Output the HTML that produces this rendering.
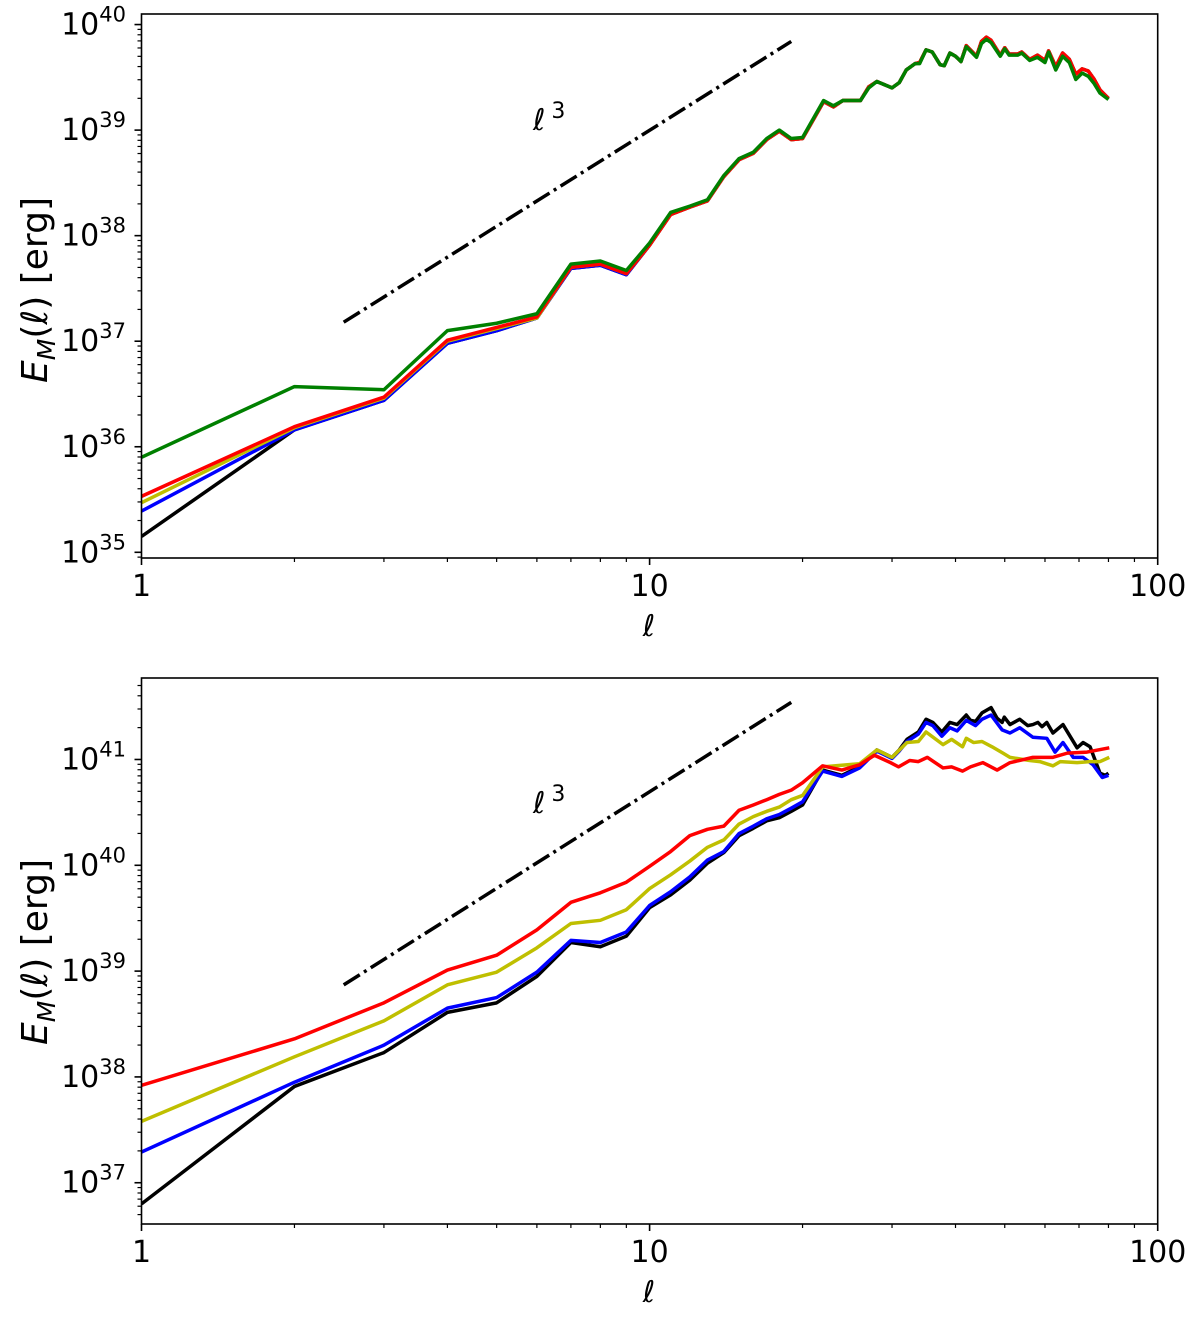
<!DOCTYPE html>
<html><head><meta charset="utf-8"><style>
html,body{margin:0;padding:0;background:#fff;}
svg{display:block;font-family:"DejaVu Sans","Liberation Sans",sans-serif;}
</style></head>
<body>
<svg id="fig" width="1200" height="1328" viewBox="0 0 1200 1328" xmlns="http://www.w3.org/2000/svg"></svg>
<script>
// ---- data ----
const topEll = [1,2,3,4,5,6,7,8,9,10,11,12,13,14,15,16,17,18,19,20,22,23,24,26,27,28,30,31,32,33.3,34,35,36,37.3,38,39,40,41,42,44,45,46,47,49,50,51,53,54,56,58,60,61,63,65,67,69,71,73,75,77,80];
const topGreen = [35.90,36.57,36.54,37.10,37.17,37.26,37.73,37.76,37.67,37.93,38.22,38.28,38.34,38.57,38.73,38.79,38.92,39.00,38.92,38.93,
 39.28,39.23,39.28,39.28,39.40,39.46,39.40,39.45,39.57,39.63,39.63,39.76,39.74,39.62,39.61,39.73,39.70,39.65,39.79,39.69,39.82,39.86,39.83,39.70,39.77,39.71,39.71,39.73,39.66,39.69,39.64,39.74,39.57,39.70,39.64,39.48,39.54,39.51,39.44,39.35,39.29];
const topHigh = [39.27,39.22,39.28,39.28,39.41,39.46,39.40,39.45,39.57,39.63,39.64,39.76,39.74,39.62,39.61,39.73,39.70,39.65,39.80,39.70,39.84,39.88,39.85,39.71,39.78,39.72,39.72,39.74,39.67,39.71,39.66,39.75,39.60,39.73,39.67,39.53,39.58,39.56,39.48,39.38,39.30];
const topRedLow = [35.53,36.19,36.47,37.01,37.13,37.23,37.70,37.73,37.64,37.91,38.20,38.27,38.33,38.56,38.72,38.78,38.91,38.99,38.91,38.92];
const topYellowLow = [35.47,36.18,36.46,37.00,37.12,37.22,37.70,37.73,37.64,37.91,38.20,38.27,38.33,38.56,38.72,38.78,38.91,38.99,38.91,38.92];
const topBlueLow = [35.39,36.16,36.44,36.98,37.10,37.22,37.69,37.72,37.63,37.91,38.20,38.27,38.33,38.56,38.72,38.78,38.91,38.99,38.91,38.92];
const topBlackLow = [35.15,36.16,36.44,36.98,37.10,37.22,37.69,37.72,37.63,37.91,38.20,38.27,38.33,38.56,38.72,38.78,38.91,38.99,38.91,38.92];

const lowEll = [1,2,3,4,5,6,7,8,9,10,11,12,13,14,15,16,17,18,19,20];
const botRedLow = [37.92,38.36,38.70,39.01,39.15,39.39,39.65,39.74,39.84,39.99,40.13,40.28,40.34,40.37,40.52,40.57,40.62,40.67,40.71,40.78];
const botYellowLow = [37.58,38.19,38.53,38.87,38.99,39.22,39.45,39.48,39.58,39.78,39.91,40.04,40.17,40.24,40.39,40.46,40.51,40.55,40.62,40.66];
const botBlueLow = [37.29,37.95,38.30,38.65,38.75,38.99,39.29,39.27,39.37,39.62,39.75,39.89,40.05,40.13,40.30,40.37,40.44,40.48,40.54,40.60];
const botBlackLow = [36.80,37.91,38.23,38.61,38.70,38.95,39.27,39.23,39.33,39.60,39.72,39.86,40.02,40.12,40.28,40.35,40.42,40.45,40.51,40.57];
const botBlackEll = [21.9,23.9,25.9,28,30,31,32.1,33.8,35,36.1,37.6,39,40.3,42,42.8,43.8,45.1,47,48.3,49.4,49.9,51.2,53.5,55.5,56.8,58.1,59.2,60.5,62.2,65.1,69.4,71.3,73.6,77,78.9,80];
const botBlackHigh = [40.90,40.85,40.93,41.09,41.02,41.09,41.19,41.26,41.38,41.35,41.26,41.35,41.33,41.42,41.37,41.36,41.44,41.49,41.39,41.35,41.40,41.33,41.38,41.32,41.33,41.35,41.31,41.35,41.25,41.33,41.11,41.16,41.12,40.87,40.85,40.87];
const botBlueEll = [21.9,23.9,25.9,28,30,31,32.1,33.8,35,36.1,37.6,39,40.3,42,43.8,45.1,47,49.4,51.2,53.5,56.8,60.5,62.8,65.1,68.2,71.3,74.6,77.8,80];
const botBlueHigh = [40.89,40.84,40.92,41.08,41.01,41.08,41.17,41.24,41.35,41.32,41.22,41.30,41.27,41.37,41.32,41.38,41.42,41.28,41.25,41.30,41.21,41.20,41.07,41.16,41.02,41.02,40.95,40.83,40.85];
const botYellowEll = [21.9,25.9,28,30,32.1,33.8,35,37.8,39.3,41.3,42,43.4,45.1,47.2,49.6,51.2,56,58.6,62.2,64.3,69.4,73.6,77,80.3];
const botYellowHigh = [40.93,40.96,41.09,41.02,41.16,41.17,41.26,41.14,41.19,41.12,41.20,41.16,41.17,41.12,41.06,41.02,40.99,40.98,40.94,40.98,40.97,40.98,40.98,41.02];
const botRedEll = [21.9,23.9,25.9,27.7,29.8,30.9,32.5,33.8,35.2,37.8,39.3,41.3,42.8,45.3,48.3,51.2,56.8,62.2,66.4,72.6,80.3];
const botRedHigh = [40.94,40.90,40.95,41.04,40.97,40.93,40.99,40.98,41.02,40.92,40.93,40.89,40.93,40.97,40.90,40.97,41.02,41.02,41.06,41.07,41.11];

const refEll = [2.5,19];
const topRefLog = [37.18,39.84];
const botRefLog = [38.87,41.54];
const topYTicks = [35,36,37,38,39,40];
const botYTicks = [37,38,39,40,41];
const xTicks = [1,10,100];

const NS = "http://www.w3.org/2000/svg";
const svg = document.getElementById('fig');
function mk(tag, attrs, parent){
  const e = document.createElementNS(NS, tag);
  for (const k in attrs) e.setAttribute(k, attrs[k]);
  (parent||svg).appendChild(e);
  return e;
}

function panel(cfg){
  const L=141.5, R=1157.7, T=cfg.top, B=cfg.bottom;
  const g = mk('g', {});
  
  
  const xs = v => L + (Math.log10(v) - 0) / 2 * (R - L);
  const ys = lg => T + (cfg.ymax - lg) / (cfg.ymax - cfg.ymin) * (B - T);

  const plot = mk('g', {}, g);
  
  
  const clipId = cfg.name + '-clip';
  const cp = mk('clipPath', {id: clipId}, g);
  mk('rect', {x: L, y: T, width: R - L, height: B - T}, cp);
  plot.setAttribute('clip-path', 'url(#' + clipId + ')');

  cfg.series.forEach(s => {
    let d = '';
    s.ell.forEach((l, i) => { d += (i ? 'L' : 'M') + xs(l).toFixed(2) + ',' + ys(s.val[i]).toFixed(2); });
    const p = mk('path', {d: d, fill: 'none', stroke: s.color, 'stroke-width': 3.5, 'stroke-linejoin': 'round', 'stroke-linecap': 'butt'}, plot);
    
    
  });
  const rl = mk('line', {x1: xs(refEll[0]), y1: ys(cfg.ref[0]), x2: xs(refEll[1]), y2: ys(cfg.ref[1]),
    stroke: '#000', 'stroke-width': 3.5, 'stroke-dasharray': '19,5,3,5'}, plot);
  
  
  const an = mk('text', {x: 533, y: cfg.annY, 'font-size': 30, 'font-style': 'italic', fill: '#000'}, g);
  
  
  an.textContent = 'ℓ';
  const an3 = mk('tspan', {dx: 6, dy: -12, 'font-size': 22, 'font-style': 'normal'}, an);
  an3.textContent = '3';

  const fr = mk('rect', {x: L, y: T, width: R - L, height: B - T, fill: 'none', stroke: '#000', 'stroke-width': 1.6}, g);
  
  

  for (let dec = 0; dec < 2; dec++) {
    for (let m = 2; m <= 9; m++) {
      const x = xs(m * Math.pow(10, dec));
      mk('line', {x1: x, y1: B, x2: x, y2: B + 4, stroke: '#000', 'stroke-width': 1.2}, g);
    }
  }
  xTicks.forEach(v => {
    const x = xs(v);
    mk('line', {x1: x, y1: B, x2: x, y2: B + 7, stroke: '#000', 'stroke-width': 1.6}, g);
    const t = mk('text', {x: x, y: B + 38, 'font-size': 30, 'text-anchor': 'middle', fill: '#000'}, g);
    
    
    t.textContent = String(v);
  });
  for (let k = Math.floor(cfg.ymin); k <= Math.ceil(cfg.ymax); k++) {
    for (let m = 2; m <= 9; m++) {
      const lg = k + Math.log10(m);
      if (lg < cfg.ymin || lg > cfg.ymax) continue;
      const y = ys(lg);
      mk('line', {x1: L - 4, y1: y, x2: L, y2: y, stroke: '#000', 'stroke-width': 1.2}, g);
    }
  }
  cfg.yticks.forEach(k => {
    const y = ys(k);
    mk('line', {x1: L - 7, y1: y, x2: L, y2: y, stroke: '#000', 'stroke-width': 1.6}, g);
    const t = mk('text', {x: 126, y: y + 10, 'font-size': 30, 'text-anchor': 'end', fill: '#000'}, g);
    
    
    t.appendChild(document.createTextNode('10'));
    const sp = mk('tspan', {dy: -13, 'font-size': 21}, t);
    sp.textContent = String(k);
  });
  const xl = mk('text', {x: 649, y: B + 78, 'font-size': 30, 'font-style': 'italic', 'text-anchor': 'middle', fill: '#000'}, g);
  
  
  xl.textContent = 'ℓ';
  const yl = mk('text', {x: 0, y: 0, 'font-size': 36, 'text-anchor': 'middle', fill: '#000',
    transform: 'translate(47,' + cfg.ylabY + ') rotate(-90)'}, g);
  
  
  const e = mk('tspan', {'font-style': 'italic'}, yl); e.textContent = 'E';
  const sub = mk('tspan', {'font-style': 'italic', 'font-size': 25, dy: 8}, yl); sub.textContent = 'M';
  const r1 = mk('tspan', {dy: -8}, yl); r1.textContent = '(';
  const r2 = mk('tspan', {'font-style': 'italic'}, yl); r2.textContent = 'ℓ';
  const r3 = mk('tspan', {}, yl); r3.textContent = ') [erg]';
}

panel({name: 'top-panel', top: 14, bottom: 558, ymin: 34.946, ymax: 40.10, yticks: topYTicks,
  ref: topRefLog, annY: 130, ylabY: 290,
  series: [
    {name: 'top-black-line', color: '#000000', ell: topEll, val: topBlackLow.concat(topHigh)},
    {name: 'top-blue-line', color: '#0000ff', ell: topEll, val: topBlueLow.concat(topHigh)},
    {name: 'top-yellow-line', color: '#bfbf00', ell: topEll, val: topYellowLow.concat(topHigh)},
    {name: 'top-red-line', color: '#ff0000', ell: topEll, val: topRedLow.concat(topHigh)},
    {name: 'top-green-line', color: '#008000', ell: topEll, val: topGreen}
  ]});

panel({name: 'bottom-panel', top: 678, bottom: 1224, ymin: 36.61, ymax: 41.77, yticks: botYTicks,
  ref: botRefLog, annY: 813, ylabY: 952,
  series: [
    {name: 'bottom-black-line', color: '#000000', ell: lowEll.concat(botBlackEll), val: botBlackLow.concat(botBlackHigh)},
    {name: 'bottom-blue-line', color: '#0000ff', ell: lowEll.concat(botBlueEll), val: botBlueLow.concat(botBlueHigh)},
    {name: 'bottom-yellow-line', color: '#bfbf00', ell: lowEll.concat(botYellowEll), val: botYellowLow.concat(botYellowHigh)},
    {name: 'bottom-red-line', color: '#ff0000', ell: lowEll.concat(botRedEll), val: botRedLow.concat(botRedHigh)}
  ]});
</script>
</body></html>
